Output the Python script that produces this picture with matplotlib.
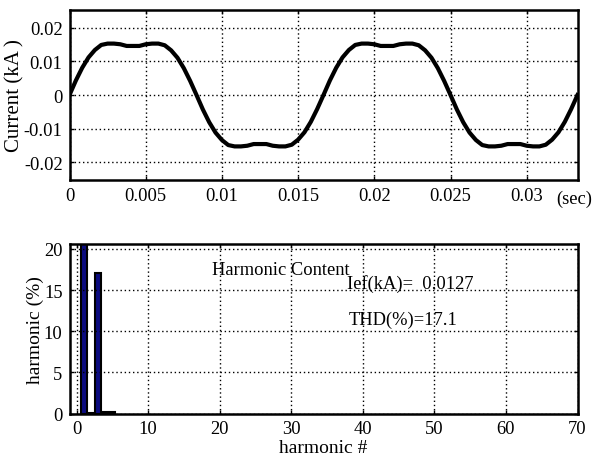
import numpy as np
import matplotlib
matplotlib.use("Agg")
import matplotlib.pyplot as plt
from matplotlib.transforms import blended_transform_factory

plt.rcParams['font.family'] = ['Liberation Serif', 'DejaVu Serif']

# ---- data: current waveform (kA), two cycles sampled at 1/2400 s ----
current_kA = [
    0.0000, 0.0043, 0.0081, 0.0112, 0.0134, 0.0149, 0.0153, 0.0153, 0.0151, 0.0146,
    0.0146, 0.0146, 0.0151, 0.0153, 0.0153, 0.0148, 0.0133, 0.0111, 0.0080, 0.0042,
    0.0000, -0.0043, -0.0081, -0.0112, -0.0134, -0.0149, -0.0153, -0.0153, -0.0151, -0.0146,
    -0.0146, -0.0146, -0.0151, -0.0153, -0.0153, -0.0148, -0.0133, -0.0111, -0.0080, -0.0042,
    0.0000, 0.0043, 0.0081, 0.0112, 0.0134, 0.0149, 0.0153, 0.0153, 0.0151, 0.0146,
    0.0146, 0.0146, 0.0151, 0.0153, 0.0153, 0.0148, 0.0133, 0.0111, 0.0080, 0.0042,
    0.0000, -0.0043, -0.0081, -0.0112, -0.0134, -0.0149, -0.0153, -0.0153, -0.0151, -0.0146,
    -0.0146, -0.0146, -0.0151, -0.0153, -0.0153, -0.0148, -0.0133, -0.0111, -0.0080, -0.0042,
    0.0000,
]
t_end = 1 / 30
time_s = np.linspace(0, t_end, len(current_kA))

top_xticks = [0, 0.005, 0.01, 0.015, 0.02, 0.025, 0.03]
top_xticklabels = ["0", "0.005", "0.01", "0.015", "0.02", "0.025", "0.03"]
top_yticks = [-0.02, -0.01, 0, 0.01, 0.02]
top_yticklabels = ["-0.02", "-0.01", "0", "0.01", "0.02"]

# ---- data: harmonic spectrum (%) ----
harmonic_order = [1, 2, 3, 4, 5]
harmonic_pct = [100.0, 0.12, 17.1, 0.15, 0.2]
bot_xticks = [0, 10, 20, 30, 40, 50, 60, 70]
bot_yticks = [0, 5, 10, 15, 20]

ief_text = "Ief(kA)=  0.0127"
thd_text = "THD(%)=17.1"
title_text = "Harmonic Content"

W, H = 594, 460
fig = plt.figure(figsize=(W / 100, H / 100), dpi=100)

def box(l, t, r, b):
    return [l / W, 1 - b / H, (r - l) / W, (b - t) / H]

grid_kw = dict(color='black', linestyle=(0, (1, 2)), linewidth=1.0)
TICK_FS = 13.3
LABEL_FS = 14

# ---- top axes ----
ax1 = fig.add_axes(box(69.5, 11, 577.5, 181))
ax1.plot(time_s, current_kA, color='black', linewidth=3.0, solid_joinstyle='round')
ax1.set_xlim(0, t_end)
ax1.set_ylim(-0.0253, 0.0253)
ax1.set_xticks(top_xticks)
ax1.set_xticklabels(top_xticklabels)
ax1.set_yticks(top_yticks)
ax1.set_yticklabels(top_yticklabels)
ax1.grid(True, **grid_kw)
ax1.set_ylabel("Current (kA )", fontsize=15)
ax1.yaxis.set_label_coords(-0.088, 0.5)
tr = blended_transform_factory(ax1.transAxes, fig.transFigure)
ax1.text(0.958, 1 - 199 / H, "(sec)", transform=tr, fontsize=TICK_FS,
         ha='left', va='center')

# ---- bottom axes ----
ax2 = fig.add_axes(box(69.5, 245, 577.5, 414.5))
ax2.bar(harmonic_order, harmonic_pct, width=0.8, color='#0c0c80',
        edgecolor='black', linewidth=1.5)
ax2.set_xlim(-1, 70)
ax2.set_ylim(0, 20.6)
ax2.set_xticks(bot_xticks)
ax2.set_yticks(bot_yticks)
ax2.grid(True, **grid_kw)
ax2.set_axisbelow(False)
ax2.set_xlabel("harmonic #", fontsize=LABEL_FS, labelpad=1)
ax2.set_ylabel("harmonic (%)", fontsize=LABEL_FS)
ax2.yaxis.set_label_coords(-0.051, 0.5)
ax2.text(18.9, 16.9, title_text, fontsize=TICK_FS, ha='left', va='baseline')
ax2.text(37.8, 15.25, ief_text, fontsize=TICK_FS, ha='left', va='baseline')
ax2.text(38.0, 10.9, thd_text, fontsize=TICK_FS, ha='left', va='baseline')

for ax in (ax1, ax2):
    for s in ax.spines.values():
        s.set_linewidth(1.8)
    ax.tick_params(direction='in', length=3, width=1, labelsize=TICK_FS, pad=5,
                   top=True, right=True)

fig.savefig("out.png", dpi=100)
